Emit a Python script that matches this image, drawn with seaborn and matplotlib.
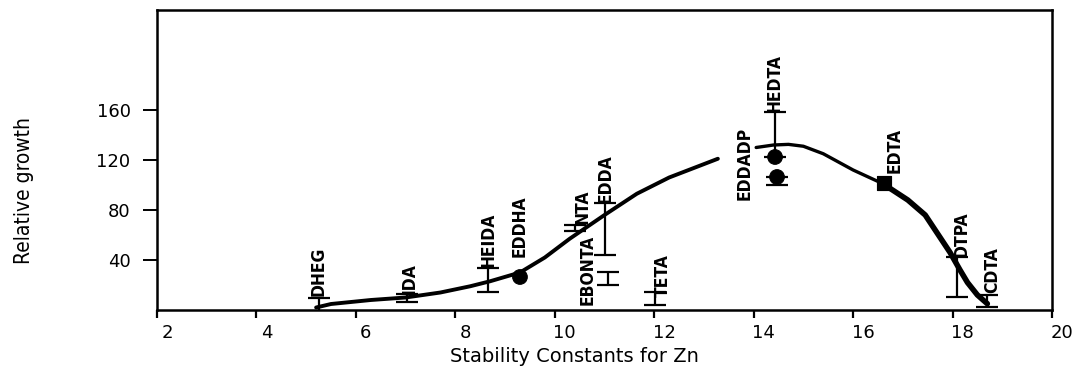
import os
import numpy as np
import pandas as pd
import matplotlib
matplotlib.use("Agg")
import matplotlib.pyplot as plt
import matplotlib.transforms as mtransforms
from matplotlib import font_manager
from matplotlib.font_manager import FontProperties
import seaborn as sns

# ---------------- data ----------------
chelators = ["DHEG", "IDA", "HEIDA", "EDDHA", "NTA", "EDDA", "EBONTA",
             "TETA", "EDDADP", "HEDTA", "EDTA", "DTPA", "CDTA"]
stability = [5.25, 7.03, 8.66, 9.30, 10.41, 11.01, 11.07,
             12.02, 14.47, 14.43, 16.62, 18.09, 18.69]
growth = [4.0, 9.6, 24.0, 26.4, 65.6, 64.8, 25.2,
          9.2, 106.4, 122.4, 101.6, 26.4, 7.2]
err_low = [5.6, 3.0, 9.6, 0.0, 2.5, 20.8, 5.2,
           5.2, 6.0, 0.0, 0.0, 16.0, 4.8]
err_high = [5.6, 3.0, 9.6, 0.0, 2.5, 20.8, 5.2,
            5.2, 0.0, 36.0, 0.0, 16.0, 4.8]
marker_kind = ["none", "none", "none", "circle", "none", "none", "none",
               "none", "circle", "circle", "square", "none", "none"]

curve1_x = [5.2, 5.5, 6.3, 7.0, 7.7, 8.3, 8.7, 9.3, 9.8, 10.3, 11.0, 11.65, 12.3, 13.28]
curve1_y = [2.0, 4.8, 8.0, 10.0, 14.0, 19.0, 23.0, 30.0, 42.0, 57.0, 76.0, 93.0, 106.0, 121.0]
curve2_x = [14.05, 14.4, 14.7, 15.0, 15.4, 16.0, 16.6, 17.1, 17.45, 17.7, 17.95, 18.15, 18.3, 18.5, 18.7]
curve2_y = [130.0, 132.0, 132.5, 131.0, 125.0, 112.0, 101.0, 88.0, 76.0, 61.0, 46.0, 32.0, 22.0, 12.0, 5.0]

x_ticks = [2, 4, 6, 8, 10, 12, 14, 16, 18, 20]
y_ticks = [40, 80, 120, 160]

# label offsets (pixels) from the top of each error bar
label_offsets = {
    "DHEG": (0, 2), "IDA": (2.5, 0), "HEIDA": (0, 1), "EDDHA": (0, 20),
    "NTA": (7, 1), "EDDA": (1, 0), "EBONTA": (-20, -33), "TETA": (8, -5),
    "EDDADP": (-32, -23), "HEDTA": (0, 0), "EDTA": (11, 10),
    "DTPA": (5, 0), "CDTA": (5, 2),
}

# ---------------- style ----------------
sns.set_style("ticks")
plt.rcParams["font.family"] = ["DejaVu Sans"]


def condensed_font(bold, size):
    """Find a condensed / narrow face among installed fonts."""
    found = []
    for f in font_manager.fontManager.ttflist:
        fn = os.path.basename(f.fname)
        st = str(f.stretch)
        is_cond = ("Narrow" in f.name or "Condensed" in f.name or "Narrow" in fn
                   or "Condensed" in fn or st in ("condensed", "semi-condensed",
                                                  "extra-condensed"))
        if not is_cond:
            continue
        if any(k in fn for k in ("Mono", "Oblique", "Italic", "Light", "Thin",
                                 "Black", "ExtraBold", "SemiBold", "Medium")):
            continue
        w = f.weight
        is_bold = (w == "bold" or (isinstance(w, int) and w >= 700) or "Bold" in fn)
        if is_bold == bold:
            found.append(f.fname)
    if found:
        found.sort(key=lambda p: (0 if "Liberation" in p else 1 if "DejaVu" in p else 2))
        return FontProperties(fname=found[0], size=size)
    return FontProperties(family="Liberation Sans",
                          weight="bold" if bold else "normal",
                          size=size * 0.85)


label_font = condensed_font(True, 12.5)
ylabel_font = condensed_font(False, 15)

fig = plt.figure(figsize=(10.85, 3.72), dpi=100)
W, H = 1085, 372
ax = fig.add_axes([157 / W, (H - 310) / H, (1052 - 157) / W, 300 / H])

df = pd.DataFrame({"chelator": chelators, "x": stability, "y": growth,
                   "lo": err_low, "hi": err_high, "kind": marker_kind})
c1 = pd.DataFrame({"x": curve1_x, "y": curve1_y})
c2 = pd.DataFrame({"x": curve2_x, "y": curve2_y})

# curves
sns.lineplot(data=c1, x="x", y="y", ax=ax, color="black", lw=2.8,
             sort=False, estimator=None)
sns.lineplot(data=c2, x="x", y="y", ax=ax, color="black", lw=2.4,
             sort=False, estimator=None)
sns.lineplot(data=c2[c2["x"] >= 16.5], x="x", y="y", ax=ax, color="black",
             lw=4.0, sort=False, estimator=None)

# error bars
eb = df[(df["lo"] > 0) | (df["hi"] > 0)]
ax.errorbar(eb["x"], eb["y"], yerr=[eb["lo"], eb["hi"]], fmt="none",
            ecolor="black", elinewidth=1.6, capsize=8, capthick=1.6, zorder=3)

# markers
mk = df[df["kind"] != "none"]
sns.scatterplot(data=mk, x="x", y="y", style="kind",
                markers={"circle": "o", "square": "s"}, color="black",
                s=110, edgecolor="black", legend=False, ax=ax, zorder=4)

# vertical labels
for _, r in df.iterrows():
    dx, dy = label_offsets[r["chelator"]]
    ax.annotate(r["chelator"], xy=(r["x"], r["y"] + r["hi"]),
                xytext=(dx, dy), textcoords="offset pixels",
                rotation=90, ha="center", va="bottom",
                fontproperties=label_font, color="black")

# axes
ax.set_xlim(2, 20)
ax.set_ylim(0, 240)
ax.set_xticks(x_ticks)
ax.set_yticks(y_ticks)
ax.set_xticklabels([str(t) for t in x_ticks])
ax.set_yticklabels([str(t) for t in y_ticks])
ax.tick_params(axis="x", direction="out", length=6, width=1.6, pad=4,
               labelsize=13, colors="black")
ax.tick_params(axis="y", direction="out", length=10, width=1.4, pad=9,
               labelsize=13, colors="black")
for sp in ax.spines.values():
    sp.set_visible(True)
    sp.set_color("black")
    sp.set_linewidth(1.8)

# shift x tick labels a little to the right, as in the original
shift = mtransforms.ScaledTranslation(10 / 100, 0, fig.dpi_scale_trans)
for lab in ax.get_xticklabels():
    lab.set_transform(lab.get_transform() + shift)

ax.set_xlabel("Stability Constants for Zn", fontsize=14, color="black")
ax.xaxis.set_label_coords((574 - 157) / 895, (310 - 347) / 300)
ax.set_ylabel("Relative growth", fontproperties=ylabel_font, color="black")
ax.yaxis.set_label_coords((34 - 157) / 895, (310 - 190) / 300)

fig.savefig("out.png", dpi=100)
